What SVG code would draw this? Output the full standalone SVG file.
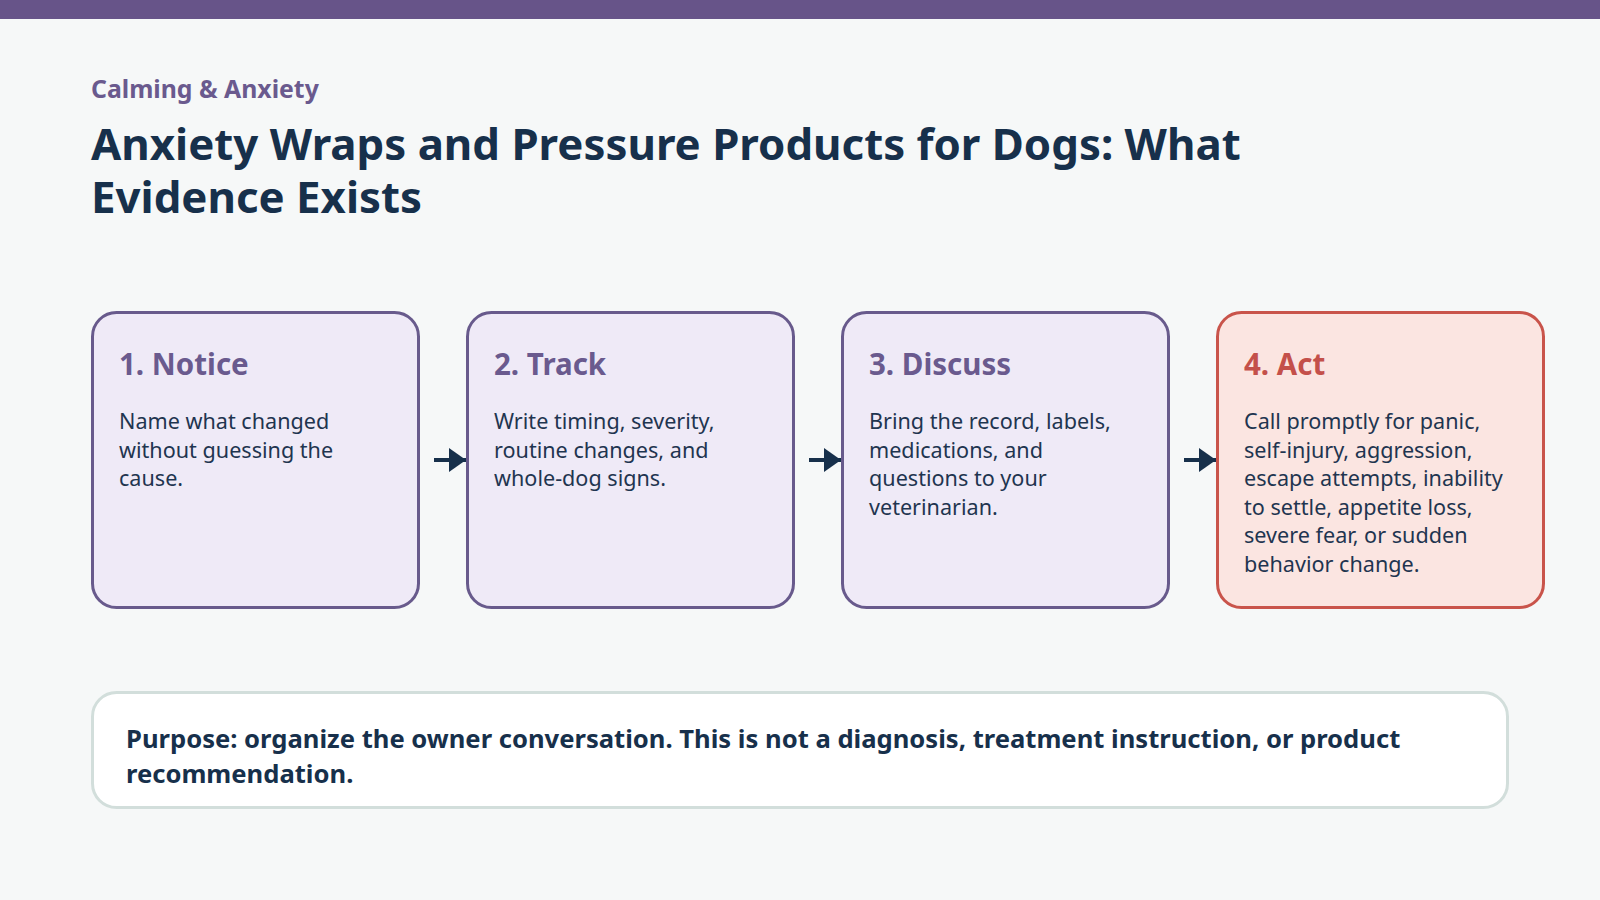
<svg xmlns="http://www.w3.org/2000/svg" width="1600" height="900" viewBox="0 0 1600 900">
<defs>
<style>
.bg{fill:#f6f8f8}
.bar{fill:#675489}
.kicker{font-family:"Noto Sans",sans-serif;font-weight:700;font-size:24.8px;fill:#6a5a8e}
.title{font-family:"Noto Sans",sans-serif;font-weight:700;font-size:43.8px;fill:#17304b}
.card rect{fill:#efeaf7;stroke:#685a8c;stroke-width:3}
.card .h{font-family:"Noto Sans",sans-serif;font-weight:700;font-size:29.5px;fill:#6a5a8e}
.card .b{font-family:"Noto Sans",sans-serif;font-size:21.6px;fill:#1f3550}
.card.alert rect{fill:#fbe5e1;stroke:#c9544b}
.card.alert .h{fill:#c4504a}
.note rect{fill:#ffffff;stroke:#d2dedb;stroke-width:3}
.note text{font-family:"Noto Sans",sans-serif;font-weight:700;font-size:25.6px;fill:#17304b}
.conn line{stroke:#17304b;stroke-width:4}
</style>
<marker id="ah" viewBox="0 0 17 24" refX="17" refY="12" markerWidth="17" markerHeight="24" markerUnits="userSpaceOnUse" orient="auto">
<path d="M0,0 L17,12 L0,24 Z" fill="#17304b"/>
</marker>
</defs>
<rect class="bg" x="0" y="0" width="1600" height="900"/>
<rect class="bar" x="0" y="0" width="1600" height="19"/>
<g id="header">
<text class="kicker" x="91" y="98">Calming &amp; Anxiety</text>
<text class="title" x="91" y="160">Anxiety Wraps and Pressure Products for Dogs: What</text>
<text class="title" x="91" y="213">Evidence Exists</text>
</g>
<g id="connectors" class="conn">
<line x1="434" y1="460" x2="466" y2="460" marker-end="url(#ah)"/>
<line x1="809" y1="460" x2="841" y2="460" marker-end="url(#ah)"/>
<line x1="1184" y1="460" x2="1216" y2="460" marker-end="url(#ah)"/>
</g>
<g id="step1" class="card">
<rect x="92.5" y="312.5" width="326" height="295" rx="24"/>
<text class="h" x="119" y="375">1. Notice</text>
<text class="b" x="119" y="429">Name what changed</text>
<text class="b" x="119" y="457.5">without guessing the</text>
<text class="b" x="119" y="486">cause.</text>
</g>
<g id="step2" class="card">
<rect x="467.5" y="312.5" width="326" height="295" rx="24"/>
<text class="h" x="494" y="375">2. Track</text>
<text class="b" x="494" y="429">Write timing, severity,</text>
<text class="b" x="494" y="457.5">routine changes, and</text>
<text class="b" x="494" y="486">whole-dog signs.</text>
</g>
<g id="step3" class="card">
<rect x="842.5" y="312.5" width="326" height="295" rx="24"/>
<text class="h" x="869" y="375">3. Discuss</text>
<text class="b" x="869" y="429">Bring the record, labels,</text>
<text class="b" x="869" y="457.5">medications, and</text>
<text class="b" x="869" y="486">questions to your</text>
<text class="b" x="869" y="514.5">veterinarian.</text>
</g>
<g id="step4" class="card alert">
<rect x="1217.5" y="312.5" width="326" height="295" rx="24"/>
<text class="h" x="1244" y="375">4. Act</text>
<text class="b" x="1244" y="429">Call promptly for panic,</text>
<text class="b" x="1244" y="457.5">self-injury, aggression,</text>
<text class="b" x="1244" y="486">escape attempts, inability</text>
<text class="b" x="1244" y="514.5">to settle, appetite loss,</text>
<text class="b" x="1244" y="543">severe fear, or sudden</text>
<text class="b" x="1244" y="571.5">behavior change.</text>
</g>
<g id="note" class="note">
<rect x="92.5" y="692.5" width="1415" height="115" rx="24"/>
<text x="126" y="748">Purpose: organize the owner conversation. This is not a diagnosis, treatment instruction, or product</text>
<text x="126" y="783">recommendation.</text>
</g>
</svg>
